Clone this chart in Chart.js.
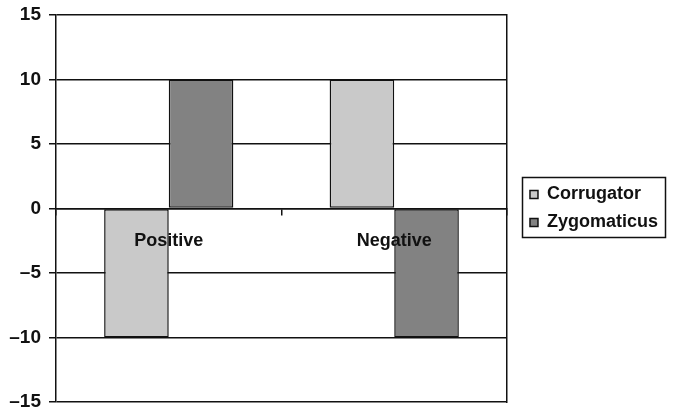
<!DOCTYPE html>
<html>
<head>
<meta charset="utf-8">
<script src="https://cdn.jsdelivr.net/npm/chart.js@4/dist/chart.umd.min.js"></script>
<style>
  html, body { margin: 0; padding: 0; background: #fff; }
  #wrap { width: 673px; height: 411px; }
</style>
</head>
<body>
<div id="wrap"><canvas id="c" width="673" height="411"></canvas></div>
<script>
// Facial EMG change by valence
const categories = ['Positive', 'Negative'];
const seriesNames = ['Corrugator', 'Zygomaticus'];
const corrugator = [-10, 10];
const zygomaticus = [10, -10];
const yTicks = [-15, -10, -5, 0, 5, 10, 15];

const INK = '#111';
const FONT = { family: '"Liberation Sans", Arial, sans-serif', size: 18, weight: 'bold' };
const TICK_FONT = { family: '"Liberation Sans", Arial, sans-serif', size: 19, weight: 'bold' };

// Frame drawn round the legend entries
const legendFrame = {
  id: 'legendFrame',
  afterDraw(chart) {
    const boxes = chart.legend && chart.legend.legendHitBoxes;
    if (!boxes || !boxes.length) return;
    let l = Infinity, t = Infinity, r = -Infinity, b = -Infinity;
    boxes.forEach(h => {
      l = Math.min(l, h.left);
      t = Math.min(t, h.top);
      r = Math.max(r, h.left + h.width);
      b = Math.max(b, h.top + h.height);
    });
    const ctx = chart.ctx;
    ctx.save();
    ctx.strokeStyle = INK;
    ctx.lineWidth = 1.5;
    ctx.strokeRect(Math.round(l - 8) + 0.5, Math.round(t - 9) + 0.5,
                   Math.round(r - l + 15), Math.round(b - t + 14));
    ctx.restore();
  }
};

const fmt = v => (v < 0 ? '\u2013' + Math.abs(v) : String(v));

new Chart(document.getElementById('c'), {
  type: 'bar',
  data: {
    labels: categories,
    datasets: [
      { label: seriesNames[0], data: corrugator, backgroundColor: '#c9c9c9',
        borderColor: INK, borderWidth: 1.5, borderSkipped: false },
      { label: seriesNames[1], data: zygomaticus, backgroundColor: '#828282',
        borderColor: INK, borderWidth: 1.5, borderSkipped: false }
    ]
  },
  options: {
    responsive: false,
    animation: false,
    datasets: { bar: { categoryPercentage: 0.573, barPercentage: 1 } },
    layout: { padding: { left: 2, top: 15, right: 5, bottom: 9 } },
    plugins: {
      legend: {
        position: 'right',
        maxWidth: 220,
        labels: {
          boxWidth: 8, boxHeight: 8, padding: 10, color: INK, font: FONT
        }
      },
      tooltip: { enabled: false }
    },
    scales: {
      x: {
        position: { y: 0 },
        grid: { offset: true, drawOnChartArea: false, drawTicks: true, tickLength: 6, color: INK, lineWidth: 1.5 },
        border: { display: true, color: INK, width: 1.5 },
        ticks: { z: 1, padding: 16, color: INK, font: FONT, maxRotation: 0 },
        afterFit(scale) { scale.height = 0; }
      },
      y: {
        min: yTicks[0], max: yTicks[yTicks.length - 1],
        afterBuildTicks(scale) { scale.ticks = yTicks.map(v => ({ value: v })); },
        afterFit(scale) { scale.width = 54; scale.paddingTop = 0; scale.paddingBottom = 0; },
        ticks: { padding: 8, color: INK, font: TICK_FONT, callback: fmt },
        grid: { color: INK, lineWidth: 1.5, tickLength: 7 },
        border: { color: INK, width: 1.5 }
      },
      y2: {
        position: 'right',
        min: yTicks[0], max: yTicks[yTicks.length - 1],
        ticks: { display: false },
        grid: { drawOnChartArea: false, drawTicks: false },
        border: { color: INK, width: 1.5 },
        afterFit(scale) { scale.width = 13; scale.paddingTop = 0; scale.paddingBottom = 0; }
      }
    }
  },
  plugins: [legendFrame]
});
</script>
</body>
</html>
